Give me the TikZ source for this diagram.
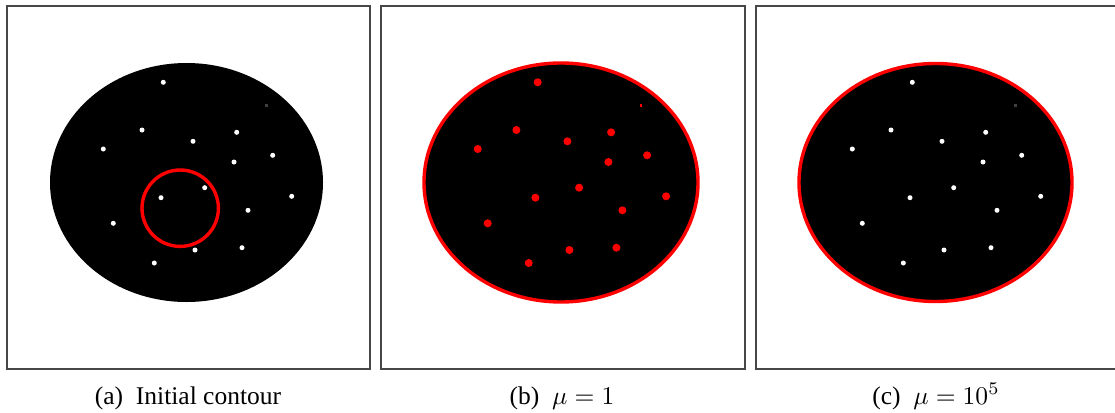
\documentclass[tikz,border=0pt]{standalone}
\usepackage{fontspec}
\setmainfont{Liberation Serif}
\begin{document}
\begin{tikzpicture}[x=1pt,y=-1pt,
  panel/.style={draw=black!72, line width=1.3pt},
  blob/.style={fill=black},
  wdot/.style={circle, fill=white, inner sep=0pt, minimum size=5pt},
  rdot/.style={circle, fill=red, inner sep=0pt, minimum size=8pt},
  speck/.style={rectangle, inner sep=0pt, minimum size=2.5pt},
  contour/.style={draw=red, line width=3.4pt},
  captext/.style={anchor=base, font=\fontsize{10}{12}\selectfont, scale=2.55, transform shape}]
\useasboundingbox (0,0) rectangle (1115,412);
% panel frames
\draw[panel] (7,6) rectangle (370,369);
\draw[panel] (381,6) rectangle (745,369);
\draw[panel] (756,6) rectangle (1125,369);
% blobs
\fill[blob] (186.5,182.5) ellipse [x radius=136.5pt, y radius=119.5pt];
\fill[blob, contour] (561,182.5) ellipse [x radius=137pt, y radius=119.5pt];
\fill[blob, contour] (935.5,182.5) ellipse [x radius=136.5pt, y radius=119pt];
% initial contour
\draw[contour] (180.2,208.2) circle [radius=38.2pt];
% dots
\foreach \x/\y [count=\i] in {163.3/82.3, 142/130, 193/141.3, 236.7/132.3, 103.3/149,
  272.7/155.3, 234/162, 204.7/187.7, 161/197.7, 291.7/196.3, 248/210.3,
  113.3/223.3, 195/250, 242/247.7, 154.3/263}{
  \node[wdot] (a\i) at (\x,\y) {};
  \node[rdot] (b\i) at (\x+374.4,\y) {};
  \node[wdot] (c\i) at (\x+749,\y) {};
}
\node[speck, fill=black!75] (sa) at (266.7,105.3) {};
\node[speck, fill=red] (sb) at (266.7+374.4,105.3) {};
\node[speck, fill=black!75] (sc) at (266.7+749,105.3) {};
% captions
\node[captext] (capA) at (188,404) {(a)\hspace{0.5em}Initial contour};
\node[captext] (capB) at (562,404) {(b)\hspace{0.5em}$\mu=1$};
\node[captext] (capC) at (936,404) {(c)\hspace{0.5em}$\mu=10^5$};
\end{tikzpicture}
\end{document}
